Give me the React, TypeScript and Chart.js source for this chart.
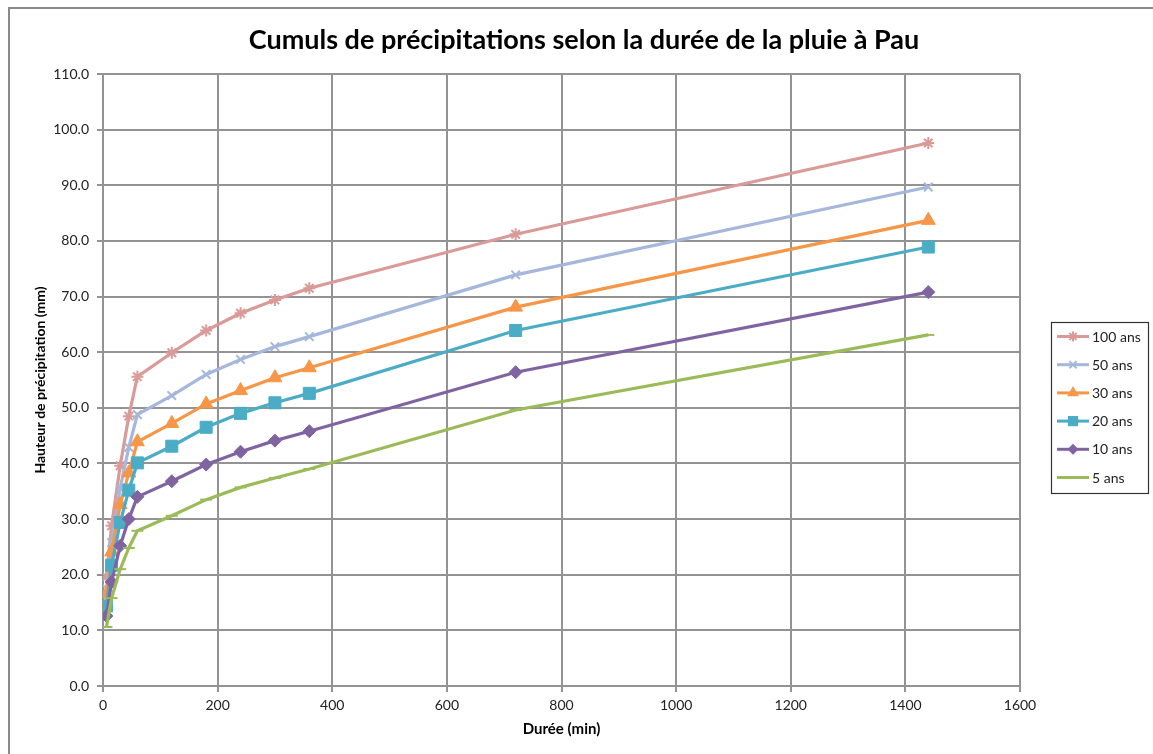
import React, { useEffect, useRef } from "react";
import { Chart, registerables } from "chart.js";

Chart.register(...registerables);

const durations = [6, 15, 30, 45, 60, 120, 180, 240, 300, 360, 720, 1440];
const seriesLabels = ["100 ans", "50 ans", "30 ans", "20 ans", "10 ans", "5 ans"];
const ans100 = [19.6, 28.8, 39.6, 48.5, 55.6, 59.9, 63.9, 67.0, 69.4, 71.5, 81.2, 97.6];
const ans50 = [17.5, 25.8, 35.6, 42.9, 48.8, 52.2, 56.0, 58.7, 61.0, 62.8, 73.9, 89.7];
const ans30 = [16.5, 24.1, 32.6, 38.3, 43.9, 47.2, 50.7, 53.1, 55.4, 57.2, 68.1, 83.7];
const ans20 = [14.4, 21.7, 29.4, 35.2, 40.1, 43.1, 46.5, 49.0, 50.9, 52.6, 63.9, 78.9];
const ans10 = [12.6, 18.7, 25.2, 30.0, 34.0, 36.8, 39.8, 42.1, 44.1, 45.8, 56.4, 70.8];
const ans5 = [10.6, 15.8, 21.0, 24.8, 27.9, 30.6, 33.5, 35.7, 37.4, 39.0, 49.6, 63.1];
const seriesValues = [ans100, ans50, ans30, ans20, ans10, ans5];
const seriesColors = ["#D99A98", "#A5B7DA", "#F79646", "#4BACC6", "#8064A2", "#9BBB59"];
const seriesMarkers = ["star", "crossRot", "triangle", "rect", "rectRot", "line"];
const markerRadius = [6, 6, 8, 8.5, 6.5, 6];

const titleText = "Cumuls de précipitations selon la durée de la pluie à Pau";
const yTitle = "Hauteur de précipitation (mm)";
const xTitle = "Durée (min)";
const FONT = "Lato, 'Open Sans', sans-serif";

function drawMarker(ctx: CanvasRenderingContext2D, style: string, x: number, y: number, r: number, color: string) {
  ctx.save();
  ctx.fillStyle = color;
  ctx.strokeStyle = color;
  ctx.lineWidth = 2;
  ctx.beginPath();
  if (style === "star") {
    for (let i = 0; i < 4; i++) {
      const a = (i * Math.PI) / 4;
      ctx.moveTo(x - Math.cos(a) * r, y - Math.sin(a) * r);
      ctx.lineTo(x + Math.cos(a) * r, y + Math.sin(a) * r);
    }
    ctx.stroke();
  } else if (style === "crossRot") {
    const d = r * Math.SQRT1_2;
    ctx.moveTo(x - d, y - d);
    ctx.lineTo(x + d, y + d);
    ctx.moveTo(x + d, y - d);
    ctx.lineTo(x - d, y + d);
    ctx.stroke();
  } else if (style === "triangle") {
    ctx.moveTo(x, y - r);
    ctx.lineTo(x + r * 0.866, y + r * 0.5);
    ctx.lineTo(x - r * 0.866, y + r * 0.5);
    ctx.closePath();
    ctx.fill();
  } else if (style === "rect") {
    const s = r * Math.SQRT1_2;
    ctx.rect(x - s, y - s, 2 * s, 2 * s);
    ctx.fill();
  } else if (style === "rectRot") {
    ctx.moveTo(x, y - r);
    ctx.lineTo(x + r, y);
    ctx.lineTo(x, y + r);
    ctx.lineTo(x - r, y);
    ctx.closePath();
    ctx.fill();
  }
  ctx.restore();
}

const framePlugin = {
  id: "frame",
  beforeDraw(chart: any) {
    const ctx = chart.ctx as CanvasRenderingContext2D;
    ctx.save();
    ctx.fillStyle = "#ffffff";
    ctx.fillRect(0, 0, chart.width, chart.height);
    ctx.strokeStyle = "#8a8a8a";
    ctx.lineWidth = 2;
    ctx.strokeRect(9, 8, chart.width + 20, chart.height + 20);
    ctx.restore();
  },
  afterDraw(chart: any) {
    const ctx = chart.ctx as CanvasRenderingContext2D;
    ctx.save();
    ctx.fillStyle = "#000";
    ctx.font = `bold 27px ${FONT}`;
    ctx.textAlign = "center";
    ctx.textBaseline = "middle";
    ctx.fillText(titleText, 584, 40);
    const bx = 1051, by = 322, bw = 97, bh = 171;
    ctx.strokeStyle = "#333";
    ctx.lineWidth = 1.2;
    ctx.strokeRect(bx + 0.5, by + 0.5, bw, bh);
    ctx.font = `14px ${FONT}`;
    ctx.textAlign = "left";
    seriesLabels.forEach((lab, i) => {
      const y = 336.5 + i * 28.2;
      ctx.strokeStyle = seriesColors[i];
      ctx.lineWidth = 3;
      ctx.beginPath();
      ctx.moveTo(1057, y);
      ctx.lineTo(1089, y);
      ctx.stroke();
      drawMarker(ctx, seriesMarkers[i], 1073, y, markerRadius[i] * 0.85, seriesColors[i]);
      ctx.fillStyle = "#222";
      ctx.fillText(lab, 1092, y + 0.5);
    });
    ctx.restore();
  },
};

export default function App() {
  const ref = useRef<HTMLCanvasElement | null>(null);
  useEffect(() => {
    if (!ref.current) return;
    const datasets = seriesLabels.map((lab, i) => ({
      label: lab,
      data: durations.map((d, j) => ({ x: d, y: seriesValues[i][j] })),
      borderColor: seriesColors[i],
      backgroundColor: seriesColors[i],
      borderWidth: 3.2,
      pointStyle: seriesMarkers[i] as any,
      pointRadius: markerRadius[i],
      pointBorderWidth: seriesMarkers[i] === "star" || seriesMarkers[i] === "crossRot" || seriesMarkers[i] === "line" ? 2 : 1,
      pointBorderColor: seriesColors[i],
      pointBackgroundColor: seriesColors[i],
      tension: 0,
      order: seriesLabels.length - i,
    }));
    const chart = new Chart(ref.current, {
      type: "line",
      data: { datasets },
      plugins: [framePlugin],
      options: {
        responsive: false,
        animation: false,
        layout: { padding: { left: 28, right: 133, top: 74, bottom: 12 } },
        plugins: { legend: { display: false }, tooltip: { enabled: false }, title: { display: false } },
        scales: {
          x: {
            type: "linear",
            min: 0,
            max: 1600,
            ticks: { stepSize: 200, color: "#222", font: { family: FONT, size: 14 }, padding: 5, maxRotation: 0, callback: (v: any) => String(v) },
            grid: { color: "#939393", lineWidth: 2, tickLength: 6 },
            border: { color: "#939393", width: 2 },
            title: { display: true, text: xTitle, color: "#000", font: { family: FONT, size: 15, weight: "bold" } },
            afterFit: (s: any) => { s.height = 56; },
          },
          y: {
            type: "linear",
            min: 0,
            max: 110,
            ticks: { stepSize: 10, color: "#222", font: { family: FONT, size: 14 }, padding: 8, callback: (v: any) => Number(v).toFixed(1) },
            grid: { color: "#939393", lineWidth: 2, tickLength: 6 },
            border: { color: "#939393", width: 2 },
            title: { display: true, text: yTitle, color: "#000", font: { family: FONT, size: 14, weight: "bold" } },
            afterFit: (s: any) => { s.width = 75; },
          },
        },
      },
    });
    return () => chart.destroy();
  }, []);
  return (
    <div style={{ position: "absolute", left: 0, top: 0, width: 1153, height: 754, overflow: "hidden" }}>
      <canvas ref={ref} width={1153} height={754} style={{ display: "block" }} />
    </div>
  );
}
